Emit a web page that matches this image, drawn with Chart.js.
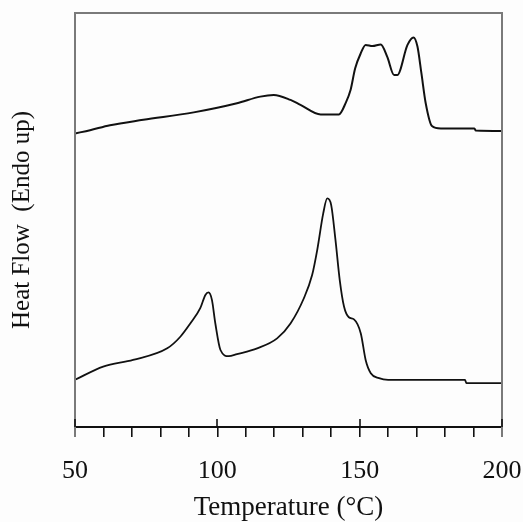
<!DOCTYPE html>
<html>
<head>
<meta charset="utf-8">
<script src="https://cdn.jsdelivr.net/npm/chart.js@4"></script>
<style>
  html, body { margin: 0; padding: 0; background: #fdfdfd; }
  #wrap { width: 523px; height: 522px; }
</style>
</head>
<body>
<div id="wrap"><canvas id="dsc"></canvas></div>
<script>
// DSC curves, heat flow in arbitrary units (endo up)
var tempTop = [50, 55.3, 62.3, 74, 91.7, 106.9, 115.1, 119.8, 125.7, 129.2, 136.3, 142.7, 145.1, 146.8, 148.4, 150.4, 152.1, 154.5, 157.4, 159.7, 162.1, 163.2, 166.8, 168.9, 170.3, 171.7, 173.2, 175.4, 178.5, 190.3, 190.8, 200];
var flowTop = [70.9, 71.7, 72.9, 74.2, 76.0, 78.2, 79.8, 80.2, 79.0, 77.8, 75.5, 75.5, 78.3, 81.4, 86.6, 90.3, 92.3, 92.0, 92.4, 89.4, 85.0, 85.0, 92.3, 94.1, 91.9, 85.4, 78.2, 72.7, 72.1, 72.1, 71.6, 71.5];

var tempBottom = [50, 59.9, 70.4, 82.4, 87, 90.5, 94, 95.8, 96.9, 98.1, 99.3, 101.1, 104, 106.9, 114, 121, 125.7, 130.4, 133.3, 135.1, 137.2, 138.6, 140, 141.5, 143, 144.5, 146.2, 148, 150.4, 152.1, 153.9, 156.8, 160, 187, 187.5, 200];
var flowBottom = [11.4, 14.6, 16.2, 19.0, 21.8, 25.0, 28.7, 31.9, 32.5, 30.7, 25.0, 18.6, 17.1, 17.6, 19.0, 21.4, 25.0, 31.1, 36.7, 42.8, 51.6, 55.2, 53.6, 45.2, 35.5, 29.1, 26.5, 26.0, 22.6, 16.2, 13.0, 11.8, 11.4, 11.4, 10.6, 10.6];

var majorTicks = [50, 100, 150, 200];

function pts(xs, ys) {
    var out = [];
    for (var i = 0; i < xs.length; i++) out.push({x: xs[i], y: ys[i]});
    return out;
}

var serif = "'Liberation Serif', 'Times New Roman', serif";

// gray frame + the part of the big ticks that goes up into the plot
var framePlugin = {
    id: 'frame',
    afterDraw: function(chart) {
        var a = chart.chartArea, ctx = chart.ctx, xs = chart.scales.x;
        ctx.save();
        ctx.strokeStyle = '#7a7a7a';
        ctx.lineWidth = 2;
        ctx.beginPath();
        ctx.moveTo(a.left, a.bottom + 10);
        ctx.lineTo(a.left, a.top);
        ctx.lineTo(a.right, a.top);
        ctx.lineTo(a.right, a.bottom + 10);
        ctx.stroke();
        ctx.strokeStyle = '#111';
        ctx.lineWidth = 1.6;
        majorTicks.forEach(function(v) {
            var px = Math.round(xs.getPixelForValue(v));
            ctx.beginPath();
            ctx.moveTo(px, a.bottom - 8);
            ctx.lineTo(px, a.bottom);
            ctx.stroke();
        });
        ctx.restore();
    }
};

new Chart(document.getElementById('dsc'), {
    type: 'line',
    data: {
        datasets: [{
            data: pts(tempTop, flowTop),
            borderColor: '#111',
            borderWidth: 2,
            pointRadius: 0,
            cubicInterpolationMode: 'monotone'
        }, {
            data: pts(tempBottom, flowBottom),
            borderColor: '#111',
            borderWidth: 1.8,
            pointRadius: 0,
            cubicInterpolationMode: 'monotone'
        }]
    },
    options: {
        animation: false,
        responsive: true,
        maintainAspectRatio: false,
        layout: { padding: { top: 13, right: 21, left: 0, bottom: 0 } },
        plugins: { legend: { display: false }, tooltip: { enabled: false } },
        scales: {
            x: {
                type: 'linear',
                min: 50, max: 200,
                afterFit: function(s) { s.height = 95; s.paddingLeft = 0; s.paddingRight = 0; },
                ticks: {
                    stepSize: 10,
                    autoSkip: false,
                    maxRotation: 0,
                    padding: 19,
                    color: '#111',
                    font: { family: serif, size: 26 },
                    callback: function(v) { return v % 50 === 0 ? v : ''; }
                },
                grid: { drawOnChartArea: false, drawTicks: true, tickLength: 10, color: '#111', lineWidth: 1.6 },
                border: { display: true, color: '#111', width: 2 },
                title: {
                    display: true,
                    text: 'Temperature (°C)',
                    color: '#111',
                    font: { family: serif, size: 27 },
                    padding: { top: 0, bottom: -2 }
                }
            },
            y: {
                min: 0, max: 100,
                afterFit: function(s) { s.width = 75; },
                ticks: { display: false },
                grid: { display: false },
                border: { display: false },
                title: {
                    display: true,
                    text: 'Heat Flow  (Endo up)',
                    color: '#111',
                    font: { family: serif, size: 25 },
                    padding: { top: 7, bottom: 0 }
                }
            }
        }
    },
    plugins: [framePlugin]
});
</script>
</body>
</html>
